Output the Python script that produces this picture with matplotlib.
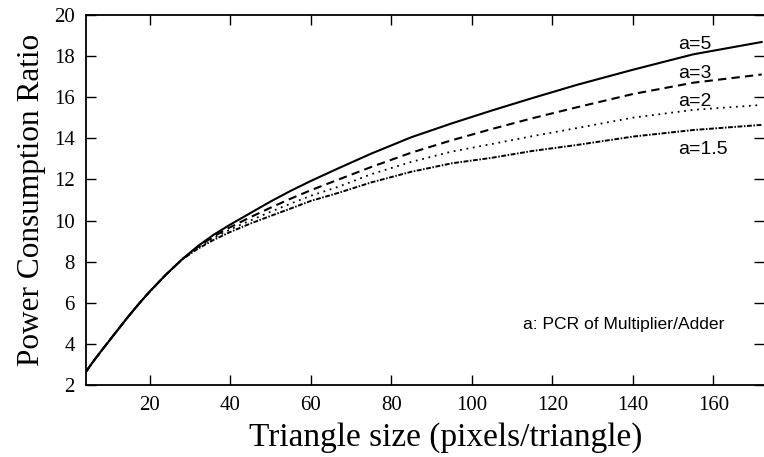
import matplotlib
matplotlib.use("Agg")
import matplotlib.pyplot as plt

# Datos
tam = [4.2, 6, 8, 10, 12, 14, 16, 18, 20, 24, 28, 32, 36, 40, 45, 50, 55, 60, 67, 75,
       85, 95, 105, 115, 126, 140, 155, 172]

# tramo comun (todas las curvas coinciden hasta ~28)
comun = [2.65, 3.15, 3.66, 4.16, 4.66, 5.16, 5.64, 6.10, 6.54, 7.36, 8.10]

pcr_a5 = comun + [8.76, 9.32, 9.80, 10.36, 10.92, 11.44, 11.92, 12.55, 13.25,
                  14.05, 14.72, 15.35, 15.95, 16.59, 17.33, 18.08, 18.68]
pcr_a3 = comun + [8.72, 9.24, 9.67, 10.16, 10.62, 11.06, 11.47, 12.00, 12.60,
                  13.30, 13.90, 14.45, 14.97, 15.50, 16.15, 16.70, 17.10]
pcr_a2 = comun + [8.68, 9.16, 9.56, 10.00, 10.42, 10.82, 11.20, 11.65, 12.25,
                  12.85, 13.35, 13.72, 14.10, 14.49, 15.00, 15.38, 15.62]
pcr_a15 = comun + [8.63, 9.07, 9.44, 9.85, 10.22, 10.58, 10.95, 11.35, 11.85,
                   12.37, 12.78, 13.05, 13.38, 13.67, 14.08, 14.40, 14.65]

etiquetas = ["a=5", "a=3", "a=2", "a=1.5"]
pos_etiquetas = [18.54, 17.16, 15.78, 13.43]

fig = plt.figure(figsize=(7.64, 4.57), dpi=100)
ax = fig.add_axes([0.1126, 0.1575, 0.887, 0.81])

ax.plot(tam, pcr_a5, color="black", lw=1.5, linestyle="-")
ax.plot(tam, pcr_a3, color="black", lw=1.5, linestyle=(0, (4, 2.5)))
ax.plot(tam, pcr_a2, color="black", lw=1.3, linestyle=(0, (1, 2.6)))
ax.plot(tam, pcr_a15, color="black", lw=1.4, linestyle=(0, (2.5, 0.8, 0.8, 0.8)))

for txt, y in zip(etiquetas, pos_etiquetas):
    ax.text(151.3, y, txt, family="Liberation Sans", fontsize=14, va="center", ha="left")

ax.text(162.7, 4.92, "a: PCR of Multiplier/Adder", family="Liberation Sans",
        fontsize=12.6, va="center", ha="right")

ax.set_xlim(4.2, 172.5)
ax.set_ylim(2, 20)
ax.set_xticks([20, 40, 60, 80, 100, 120, 140, 160])
ax.set_yticks(range(2, 21, 2))
ax.tick_params(direction="in", length=7, width=1, top=True, right=True,
               labelsize=15, pad=8)
for lab in ax.get_xticklabels() + ax.get_yticklabels():
    lab.set_family("Liberation Serif")
ax.spines["right"].set_visible(False)
for s in ["left", "bottom", "top"]:
    ax.spines[s].set_linewidth(1.3)

ax.set_xlabel("Triangle size (pixels/triangle)", family="Liberation Serif", fontsize=24)
ax.xaxis.set_label_coords(0.53, -0.10)
ax.set_ylabel("Power Consumption Ratio", family="Liberation Serif", fontsize=22.5, labelpad=6)

fig.savefig("out.png", dpi=100)
